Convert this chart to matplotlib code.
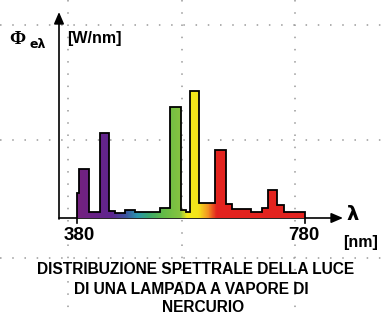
import numpy as np
import matplotlib
matplotlib.use("Agg")
import matplotlib.pyplot as plt
from matplotlib.colors import LinearSegmentedColormap
from matplotlib import font_manager

# spectrum of a mercury vapour lamp (relative units)
edges = [380, 384, 401, 420, 437, 447, 465, 482, 526, 543, 562, 571, 578,
         594, 622, 641, 651, 685, 705, 715, 731, 742, 780]
power = [25, 49, 6, 85, 7, 5, 8, 6, 10, 111, 8, 6, 127,
         15, 68, 14, 9, 6, 10, 28, 13, 6]

# colour of the light along the visible range
stop_nm = [380, 440, 465, 485, 505, 530, 560, 572, 592, 608, 624, 780]
stop_col = ["#74217f", "#5e2590", "#3b55a0", "#2a96ae", "#3aa86e", "#63bb47",
            "#86c440", "#f2ea1c", "#f4e41a", "#f49a22", "#e3231f", "#e3231f"]

title = ["DISTRIBUZIONE SPETTRALE DELLA LUCE",
         "DI UNA LAMPADA A VAPORE DI",
         "NERCURIO"]

W, H = 381, 316
fig = plt.figure(figsize=(W / 100, H / 100), dpi=100)

names = {f.name for f in font_manager.fontManager.ttflist}
bold_font = "Liberation Sans Narrow" if "Liberation Sans Narrow" in names else "Liberation Sans"

# background in pixel coordinates (origin top-left)
bg = fig.add_axes([0, 0, 1, 1])
bg.set_xlim(0, W)
bg.set_ylim(H, 0)
bg.axis("off")
for gx in [68, 182, 295]:
    bg.plot([gx, gx], [0, H], color="#9a9a9a", lw=1.1, ls=(0, (1, 7)))
for gy in [25, 140, 258]:
    bg.plot([0, W], [gy, gy], color="#9a9a9a", lw=1.1, ls=(0, (1, 7)))

# main plot area: y axis at px 59, x axis at px 218
x0, x1, y0, y1 = 59, 343, 218, 12
px_nm = (305.3 - 76.7) / 400
ax = fig.add_axes([x0 / W, (H - y0) / H, (x1 - x0) / W, (y0 - y1) / H])
ax.set_xlim(380 - (76.7 - x0) / px_nm, 380 + (x1 - 76.7) / px_nm)
ax.set_ylim(0, y0 - y1)
ax.patch.set_alpha(0)
ax.axis("off")

cmap = LinearSegmentedColormap.from_list(
    "spec", [((n - 380) / 400, c) for n, c in zip(stop_nm, stop_col)])
grad = np.linspace(0, 1, 400)[None, :]
im = ax.imshow(grad, cmap=cmap, extent=[380, 780, 0, max(power)],
               aspect="auto", zorder=2)
clip = ax.stairs(power, edges, fill=True, facecolor="none", edgecolor="none")
im.set_clip_path(clip)
ax.stairs(power, edges, color="black", lw=1.3, zorder=3)

# axes arrows
arrow = dict(arrowstyle="-|>,head_length=0.7,head_width=0.3", color="black",
             lw=1.2, shrinkA=0, shrinkB=0)
bg.annotate("", xy=(x0, y1), xytext=(x0, y0 + 1), arrowprops=arrow)
bg.annotate("", xy=(x1, y0), xytext=(x0, y0), arrowprops=arrow)
for tx in [76.7, 305.3]:
    bg.plot([tx, tx], [y0, y0 + 5], color="black", lw=1.2)

bg.text(79, 236, "380", family=bold_font, weight="bold", fontsize=13.5,
        ha="center", va="center")
bg.text(304, 236, "780", family=bold_font, weight="bold", fontsize=13.5,
        ha="center", va="center")
bg.text(353, 215, "λ", family="DejaVu Sans", weight="bold", fontsize=14,
        ha="center", va="center")
bg.text(361, 243, "[nm]", family="Liberation Sans", weight="bold",
        fontsize=11.5, ha="center", va="center")

bg.text(17, 39, "Φ", family="Liberation Serif", weight="bold", fontsize=14,
        ha="center", va="center")
bg.text(38, 44, "eλ", family="DejaVu Sans", weight="bold", fontsize=9,
        ha="center", va="center")
bg.text(67, 39, "[W/nm]", family="Liberation Sans", weight="bold",
        fontsize=11.5, ha="left", va="center")

# title, sized so the first line spans about 318 px like the reference
centers = [196, 191, 203]
rows = [270, 289.5, 307.5]
texts = [bg.text(cx, cy, line, family=bold_font, weight="bold", fontsize=12,
                 ha="center", va="center")
         for line, cx, cy in zip(title, centers, rows)]
r = fig.canvas.get_renderer()
scale = 318 / texts[0].get_window_extent(r).width
for t in texts:
    t.set_fontsize(12 * scale)

fig.savefig("out.png", dpi=100)
